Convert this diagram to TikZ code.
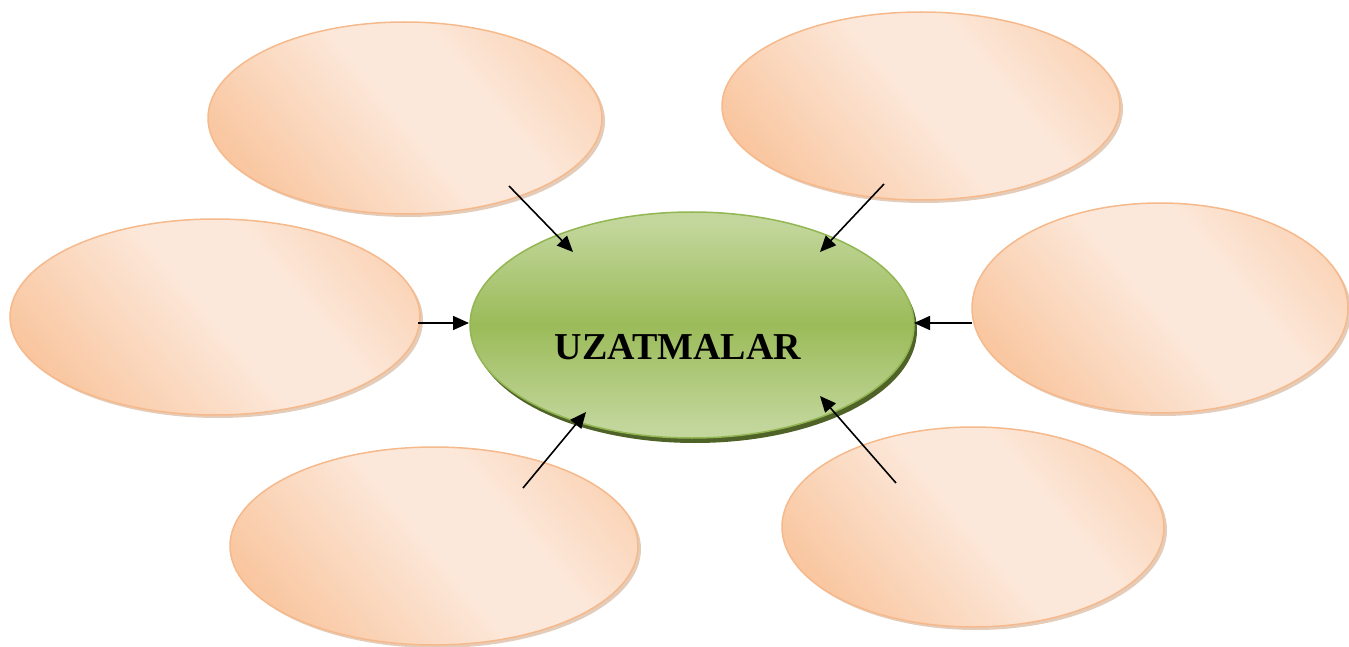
\documentclass[tikz,border=0pt]{standalone}
\usepackage{fontspec}
\setmainfont{Liberation Serif}
\usetikzlibrary{arrows.meta,shadows,shapes.geometric}
\definecolor{peachD}{HTML}{F9C49C}
\definecolor{peachL}{HTML}{FCE8DA}
\definecolor{peachB}{HTML}{F6B98B}
\definecolor{peachS}{HTML}{C48F68}
\definecolor{greenL}{HTML}{C3D79D}
\definecolor{greenM}{HTML}{9BBB59}
\definecolor{greenB}{HTML}{92B652}
\definecolor{greenS}{HTML}{4F6228}
\pgfdeclareverticalshading{petalshade}{100bp}{color(0bp)=(peachD); color(22bp)=(peachD); color(50bp)=(peachL); color(62bp)=(peachL); color(90bp)=(peachD); color(100bp)=(peachD)}
\pgfdeclareverticalshading{hubshade}{100bp}{color(0bp)=(greenL); color(27bp)=(greenL); color(50bp)=(greenM); color(73bp)=(greenL); color(100bp)=(greenL)}
\tikzset{
  petal/.style={ellipse, draw=peachB, line width=1.5pt, inner sep=0pt,
    shading=petalshade, shading angle=-50,
    drop shadow={shadow xshift=3pt, shadow yshift=-3pt, fill=peachS, opacity=0.45}},
  hub/.style={ellipse, draw=greenB, line width=1.5pt, inner sep=0pt,
    shading=hubshade,
    drop shadow={shadow xshift=3pt, shadow yshift=-5pt, fill=greenS, opacity=1}},
  conn/.style={line width=1.6pt, -{Triangle[length=16pt,width=14pt]}},
  hubtext/.style={font=\bfseries\fontsize{38}{44}\selectfont, text=black}
}
\begin{document}
\begin{tikzpicture}[x=1pt,y=-1pt]
\useasboundingbox (0,0) rectangle (1349,647);
\node[petal, minimum width=394pt, minimum height=192pt] (tl) at (405,118) {};
\node[petal, minimum width=398pt, minimum height=188pt] (tr) at (921,106) {};
\node[petal, minimum width=410pt, minimum height=196pt] (ml) at (215,317) {};
\node[petal, minimum width=376pt, minimum height=210pt] (mr) at (1160,308) {};
\node[petal, minimum width=408pt, minimum height=198pt] (bl) at (434,546) {};
\node[petal, minimum width=382pt, minimum height=200pt] (br) at (973,527) {};
\node[hub, minimum width=444pt, minimum height=226pt] (hub) at (692,325) {};
\node[hubtext] (title) at (678,347) {UZATMALAR};
% connector end points
\coordinate (s1) at (509,186); \coordinate (e1) at (573,252);
\coordinate (s2) at (884,184); \coordinate (e2) at (820,252);
\coordinate (s3) at (418,323); \coordinate (e3) at (469,323);
\coordinate (s4) at (972,323); \coordinate (e4) at (914,323);
\coordinate (s5) at (523,488); \coordinate (e5) at (586,412);
\coordinate (s6) at (896,483); \coordinate (e6) at (820,396);
\draw[conn] (s1) -- (e1);
\draw[conn] (s2) -- (e2);
\draw[conn] (s3) -- (e3);
\draw[conn] (s4) -- (e4);
\draw[conn] (s5) -- (e5);
\draw[conn] (s6) -- (e6);
\end{tikzpicture}
\end{document}
